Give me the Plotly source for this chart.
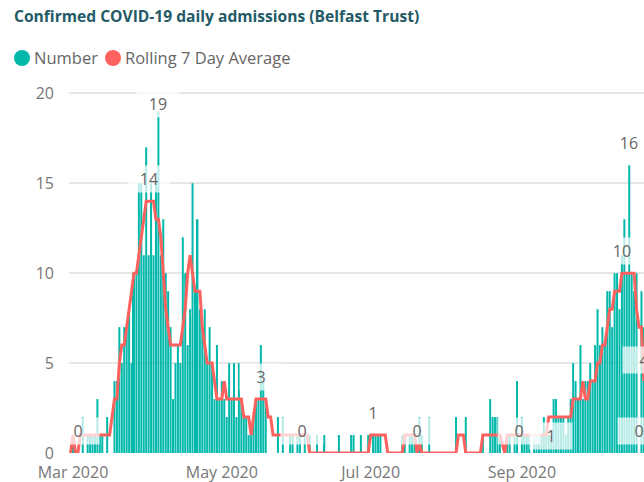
import pandas as pd
import plotly.graph_objects as go

# ---------------------------------------------------------------------------
# Confirmed COVID-19 daily admissions, Belfast Trust (one value per day,
# starting 29 Feb 2020)
# ---------------------------------------------------------------------------
first_day = "2020-02-29"

number_feb = [0]
number_mar = [1, 0, 0, 0, 2, 0, 1, 1, 1, 1,
              3, 1, 1, 0, 2, 0, 0, 4, 4, 7,
              5, 7, 7, 8, 5, 10, 10, 15, 15, 11,
              17]
number_apr = [11, 15, 11, 15, 19, 11, 13, 10, 9, 7,
              3, 5, 6, 5, 12, 10, 6, 8, 15, 9,
              13, 8, 7, 8, 5, 7, 5, 3, 6, 3]
number_may = [4, 3, 2, 5, 3, 5, 2, 5, 3, 2,
              2, 1, 1, 2, 3, 3, 6, 4, 3, 0,
              0, 0, 0, 2, 0, 2, 0, 0, 1, 1,
              0]
number_jun = [1, 1, 0, 1, 0, 1, 0, 0, 1, 0,
              0, 1, 0, 0, 0, 0, 0, 1, 0, 0,
              0, 0, 1, 1, 0, 0, 1, 0, 0, 1]
number_jul = [0, 1, 1, 1, 1, 0, 0, 0, 0, 0,
              0, 0, 0, 1, 1, 0, 1, 1, 1, 0,
              2, 1, 0, 0, 2, 0, 0, 0, 0, 0,
              0]
number_aug = [0, 0, 0, 0, 2, 0, 0, 0, 2, 0,
              0, 0, 0, 0, 0, 1, 0, 0, 3, 2,
              2, 2, 1, 0, 0, 1, 1, 0, 1, 4,
              0]
number_sep = [2, 1, 1, 1, 0, 1, 1, 1, 1, 2,
              1, 1, 1, 3, 3, 2, 2, 2, 1, 2,
              3, 5, 4, 3, 6, 3, 4, 4, 5, 4]
number_oct = [6, 8, 6, 7, 6, 9, 9, 7, 10, 10,
              8, 11, 13, 10, 16, 10, 9, 10, 0, 9,
              7]

avg_feb = [0]
avg_mar = [1, 0, 0, 1, 1, 1, 1, 1, 1, 1,
           1, 1, 1, 1, 1, 1, 2, 3, 3, 5,
           6, 6, 7, 8, 9, 10, 10, 11, 12, 13,
           14]
avg_apr = [14, 14, 14, 13, 13, 12, 10, 8, 7, 6,
           6, 6, 6, 6, 7, 8, 10, 11, 10, 9,
           9, 9, 7, 6, 5, 5, 5, 4, 3, 3]
avg_may = [3, 4, 3, 3, 3, 3, 3, 3, 3, 2,
           2, 2, 1, 2, 3, 3, 3, 3, 3, 2,
           2, 1, 1, 1, 1, 1, 1, 1, 1, 1,
           1]
avg_jun = [1, 1, 1, 1, 1, 0, 0, 0, 0, 0,
           0, 0, 0, 0, 0, 0, 0, 0, 0, 0,
           0, 0, 0, 0, 0, 0, 0, 0, 0, 0]
avg_jul = [1, 1, 1, 1, 1, 1, 1, 0, 0, 0,
           0, 0, 0, 0, 1, 1, 1, 1, 1, 0,
           0.5, 0, 0, 0, 0, 0, 0, 0, 0, 0,
           0]
avg_aug = [0, 0, 0, 0, 0, 1, 1, 1, 0, 0,
           0, 0, 0, 0, 0, 1, 1, 1, 1, 1,
           1, 1, 1, 0.5, 0, 1, 1, 1, 1, 1,
           1]
avg_sep = [1, 1, 1, 1, 1, 1, 1, 1, 1, 1,
           1, 2, 2, 2, 2, 2, 2, 2, 2, 2,
           2, 3, 3, 3, 3, 4, 3, 3, 4, 4]
avg_oct = [4, 5, 5, 6, 6, 7, 8, 8, 9, 9,
           9, 10, 10, 10, 10, 10, 10, 8, 7, 7,
           4]

x_tick_dates = ["2020-03-01", "2020-05-01", "2020-07-01", "2020-09-01"]
x_tick_text = ["Mar 2020", "May 2020", "Jul 2020", "Sep 2020"]
y_tick_values = [0, 5, 10, 15, 20]

number = (number_feb + number_mar + number_apr + number_may + number_jun
          + number_jul + number_aug + number_sep + number_oct)
rolling_avg = (avg_feb + avg_mar + avg_apr + avg_may + avg_jun
               + avg_jul + avg_aug + avg_sep + avg_oct)
assert len(number) == len(rolling_avg)
dates = pd.date_range(first_day, periods=len(number), freq="D")

# ---------------------------------------------------------------------------
# styling
# ---------------------------------------------------------------------------
W, H = 644, 482
PLOT_L, PLOT_R, PLOT_T, PLOT_B = 69, 644, 88, 453
TEAL = "#01B8AA"
RED = "#FD625E"
FONT = "Open Sans"
TICK_GREY = "#777777"
TEXT_GREY = "#666666"


def paper_x(px):
    return (px - PLOT_L) / (PLOT_R - PLOT_L)


def paper_y(py):
    return (PLOT_B - py) / (PLOT_B - PLOT_T)


fig = go.Figure()
fig.add_trace(go.Bar(
    x=dates, y=number, name="Number",
    marker=dict(color=TEAL, line=dict(width=0)),
    showlegend=False,
))
fig.add_trace(go.Scatter(
    x=dates, y=rolling_avg, name="Rolling 7 Day Average", mode="lines",
    line=dict(color=RED, width=3),
    showlegend=False,
))

# data labels: (day, series, vertical offset in px)
series = {"num": number, "avg": rolling_avg}
label_points = [
    ("2020-03-03", "avg", 22),
    ("2020-04-01", "avg", 22),
    ("2020-04-05", "num", 7),
    ("2020-05-17", "avg", 22),
    ("2020-06-03", "num", 22),
    ("2020-07-02", "avg", 22),
    ("2020-07-20", "avg", 22),
    ("2020-08-31", "num", 22),
    ("2020-09-13", "num", -1),
    ("2020-10-12", "avg", 22),
    ("2020-10-15", "num", 22),
    ("2020-10-19", "num", 22),
    ("2020-10-21", "avg", 21),
]
for day, key, shift in label_points:
    i = dates.get_loc(pd.Timestamp(day))
    value = series[key][i]
    fig.add_annotation(
        x=dates[i], y=value, xref="x", yref="y",
        text=f"{value:g}", showarrow=False,
        xanchor="center", yanchor="middle", yshift=shift,
        font=dict(family=FONT, size=16, color=TEXT_GREY),
        bgcolor="rgba(255,255,255,0.72)",
        width=36, height=20, borderpad=3,
    )

# title
fig.add_annotation(
    x=paper_x(12), y=paper_y(16), xref="paper", yref="paper",
    text="<b>Confirmed COVID-19 daily admissions (Belfast Trust)</b>",
    showarrow=False, xanchor="left", yanchor="middle",
    font=dict(family=FONT, size=15.6, color="#235A66"),
)

# legend
legend_items = [("Number", TEAL, 22), ("Rolling 7 Day Average", RED, 113)]
for text, color, cx in legend_items:
    fig.add_shape(
        type="circle", xref="paper", yref="paper",
        xsizemode="pixel", ysizemode="pixel",
        xanchor=paper_x(cx), yanchor=paper_y(58),
        x0=-8, x1=8, y0=-8, y1=8,
        fillcolor=color, line=dict(width=0),
    )
    fig.add_annotation(
        x=paper_x(cx + 10), y=paper_y(58), xref="paper", yref="paper",
        text=text, showarrow=False, xanchor="left", yanchor="middle",
        font=dict(family=FONT, size=16.5, color=TEXT_GREY),
    )

x_start = pd.Timestamp("2020-03-01") - pd.Timedelta(days=1.64)
x_end = pd.Timestamp("2020-03-01") + pd.Timedelta(days=234.05)

fig.update_layout(
    width=W, height=H,
    margin=dict(l=PLOT_L, r=W - PLOT_R, t=PLOT_T, b=H - PLOT_B),
    plot_bgcolor="white", paper_bgcolor="white",
    bargap=0.18,
    showlegend=False,
    font=dict(family=FONT, color=TICK_GREY),
)
fig.update_xaxes(
    type="date", range=[x_start, x_end],
    tickvals=x_tick_dates, ticktext=x_tick_text,
    showgrid=False, zeroline=False, showline=False, ticks="",
    ticklabelstandoff=8, automargin=False,
    tickfont=dict(family=FONT, size=16, color=TICK_GREY),
)
fig.update_yaxes(
    range=[0, 20.3], tickvals=y_tick_values,
    showgrid=True, gridcolor="#E6E6E6", gridwidth=1.5,
    zeroline=False, showline=False, ticks="",
    ticklabelstandoff=14, automargin=False,
    tickfont=dict(family=FONT, size=16, color=TICK_GREY),
)

fig.write_html("out.html", config={"displayModeBar": False})
